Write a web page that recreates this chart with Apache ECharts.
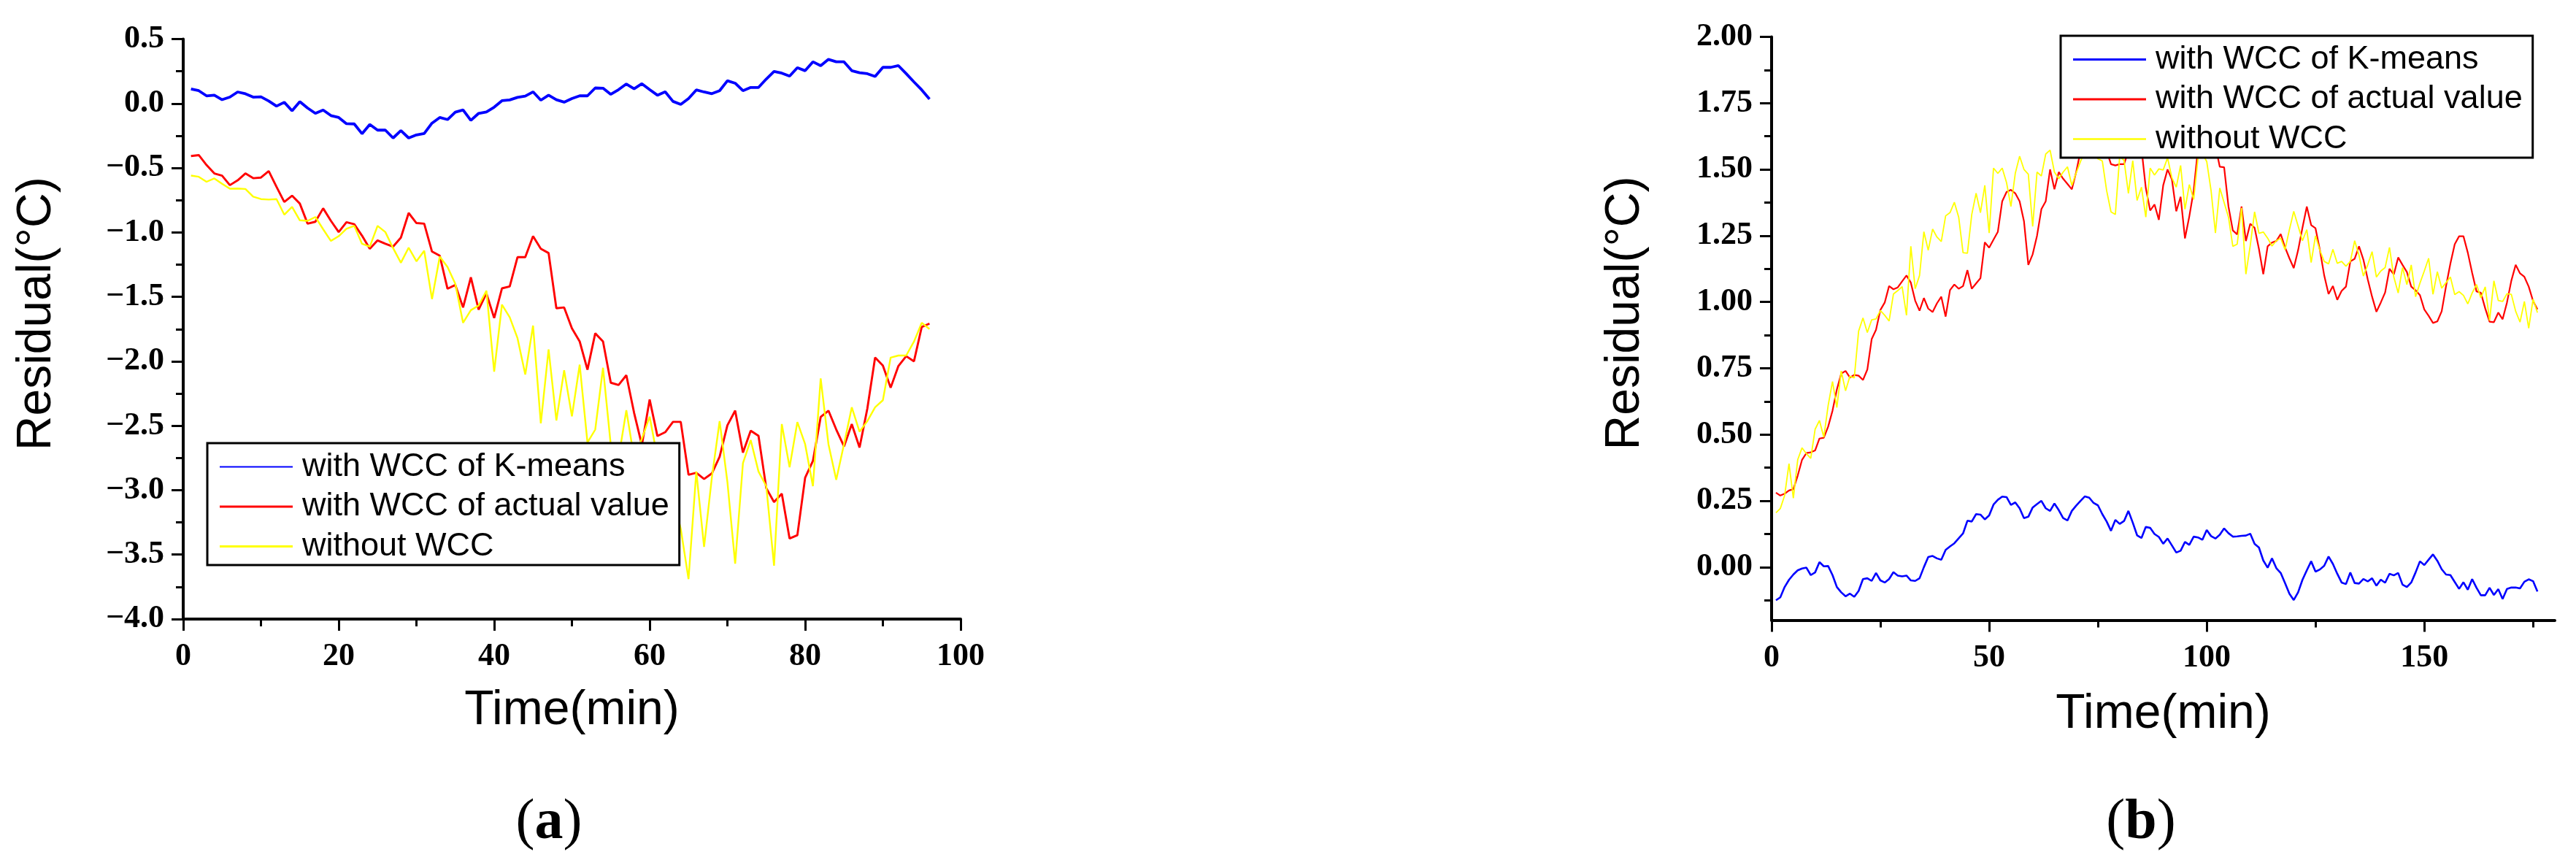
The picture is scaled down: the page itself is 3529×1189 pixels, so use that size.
<!DOCTYPE html>
<html><head><meta charset="utf-8">
<script src="https://cdn.jsdelivr.net/npm/echarts@6/dist/echarts.min.js"></script>
<style>html,body{margin:0;padding:0;background:#fff}#c{width:3529px;height:1189px}</style>
</head><body><div id="c"></div>
<script>
// ---------- data ----------
const seriesNames = ['with WCC of K-means', 'with WCC of actual value', 'without WCC'];
const seriesColors = ['#0000ff', '#ff0000', '#ffff00'];

// panel (a): minutes 1..96
const blueA = [0.113,0.10,0.06,0.065,0.03,0.05,0.09,0.076,0.05,0.052,
  0.02,-0.02,0.01,-0.056,0.015,-0.035,-0.076,-0.05,-0.093,-0.108,
  -0.156,-0.158,-0.234,-0.162,-0.206,-0.206,-0.267,-0.21,-0.267,-0.243,
  -0.232,-0.152,-0.108,-0.124,-0.067,-0.05,-0.13,-0.076,-0.065,-0.028,
  0.022,0.028,0.048,0.058,0.091,0.026,0.065,0.03,0.011,0.039,
  0.06,0.06,0.121,0.119,0.072,0.108,0.152,0.115,0.154,0.108,
  0.065,0.091,0.017,-0.007,0.039,0.106,0.09,0.077,0.10,0.177,
  0.158,0.10,0.125,0.125,0.19,0.249,0.236,0.213,0.278,0.255,
  0.324,0.294,0.343,0.324,0.324,0.255,0.239,0.232,0.21,0.281,
  0.281,0.294,0.232,0.168,0.106,0.035];
const redA = [-0.407,-0.40,-0.477,-0.542,-0.559,-0.633,-0.596,-0.542,-0.579,-0.574,
  -0.524,-0.646,-0.763,-0.715,-0.776,-0.932,-0.917,-0.813,-0.91,-0.997,
  -0.921,-0.936,-1.025,-1.127,-1.062,-1.088,-1.11,-1.04,-0.849,-0.927,
  -0.932,-1.148,-1.181,-1.437,-1.408,-1.582,-1.348,-1.599,-1.473,-1.664,
  -1.434,-1.419,-1.192,-1.192,-1.029,-1.127,-1.16,-1.588,-1.582,-1.744,
  -1.846,-2.065,-1.783,-1.846,-2.166,-2.184,-2.108,-2.40,-2.65,-2.297,
  -2.58,-2.55,-2.47,-2.47,-2.88,-2.865,-2.913,-2.87,-2.74,-2.497,
  -2.383,-2.708,-2.539,-2.578,-2.984,-3.092,-3.027,-3.375,-3.349,-2.903,
  -2.773,-2.432,-2.383,-2.529,-2.66,-2.488,-2.669,-2.367,-1.971,-2.033,
  -2.205,-2.036,-1.96,-2.0,-1.733,-1.707];
const yellowA = [-0.559,-0.568,-0.607,-0.581,-0.622,-0.661,-0.659,-0.663,-0.722,-0.741,
  -0.745,-0.741,-0.862,-0.802,-0.906,-0.91,-0.88,-0.975,-1.066,-1.029,
  -0.971,-0.949,-1.088,-1.11,-0.949,-0.997,-1.122,-1.235,-1.118,-1.224,
  -1.142,-1.517,-1.187,-1.268,-1.398,-1.701,-1.603,-1.567,-1.452,-2.08,
  -1.56,-1.658,-1.82,-2.102,-1.723,-2.481,-1.907,-2.459,-2.069,-2.427,
  -2.026,-2.63,-2.53,-2.05,-2.65,-2.75,-2.38,-2.75,-2.6,-2.43,
  -2.75,-2.9,-3.05,-3.3,-3.69,-2.855,-3.44,-2.903,-2.464,-2.936,
  -3.57,-2.79,-2.611,-2.855,-2.969,-3.586,-2.487,-2.822,-2.471,-2.643,
  -2.969,-2.133,-2.643,-2.919,-2.643,-2.357,-2.546,-2.464,-2.357,-2.302,
  -1.971,-1.955,-1.955,-1.847,-1.701,-1.75];

// panel (b): minutes 1..176
const blueB = [-0.125,-0.114,-0.075,-0.048,-0.028,-0.012,-0.005,-0.002,-0.03,-0.02,
  0.019,0.003,0.004,-0.03,-0.075,-0.095,-0.11,-0.10,-0.112,-0.09,
  -0.045,-0.042,-0.052,-0.022,-0.05,-0.058,-0.045,-0.019,-0.032,-0.035,
  -0.032,-0.05,-0.052,-0.042,0.0,0.038,0.042,0.033,0.028,0.065,
  0.078,0.09,0.109,0.127,0.175,0.172,0.2,0.198,0.18,0.195,
  0.236,0.254,0.266,0.264,0.235,0.244,0.222,0.185,0.19,0.225,
  0.238,0.25,0.222,0.212,0.24,0.215,0.185,0.176,0.212,0.232,
  0.25,0.267,0.262,0.242,0.233,0.2,0.172,0.137,0.178,0.163,
  0.174,0.212,0.168,0.12,0.11,0.152,0.148,0.125,0.114,0.088,
  0.108,0.082,0.055,0.062,0.095,0.084,0.115,0.112,0.103,0.14,
  0.117,0.108,0.122,0.146,0.128,0.115,0.116,0.118,0.119,0.126,
  0.088,0.074,0.025,-0.002,0.033,-0.004,-0.022,-0.06,-0.1,-0.124,
  -0.095,-0.048,-0.012,0.022,-0.017,-0.009,0.005,0.04,0.012,-0.025,
  -0.058,-0.064,-0.02,-0.06,-0.062,-0.045,-0.054,-0.042,-0.07,-0.047,
  -0.059,-0.025,-0.031,-0.022,-0.066,-0.075,-0.058,-0.02,0.022,0.008,
  0.028,0.048,0.024,-0.008,-0.028,-0.03,-0.056,-0.082,-0.057,-0.085,
  -0.045,-0.078,-0.106,-0.106,-0.078,-0.105,-0.083,-0.12,-0.082,-0.077,
  -0.077,-0.08,-0.055,-0.046,-0.053,-0.092];
const redB = [0.281,0.27,0.277,0.289,0.294,0.345,0.405,0.43,0.433,0.44,
  0.485,0.488,0.53,0.59,0.67,0.73,0.74,0.715,0.725,0.722,
  0.706,0.745,0.86,0.895,0.97,0.998,1.06,1.048,1.055,1.078,
  1.1,1.073,1.005,0.967,1.015,0.975,0.962,0.995,1.02,0.945,
  1.045,1.066,1.05,1.06,1.12,1.05,1.07,1.09,1.225,1.205,
  1.235,1.265,1.38,1.415,1.423,1.41,1.38,1.305,1.14,1.18,
  1.25,1.35,1.38,1.5,1.425,1.49,1.465,1.445,1.425,1.49,
  1.57,1.6,1.58,1.61,1.63,1.6,1.57,1.52,1.515,1.52,
  1.52,1.57,1.61,1.63,1.58,1.43,1.345,1.368,1.31,1.44,
  1.5,1.462,1.342,1.397,1.24,1.323,1.42,1.58,1.61,1.6,
  1.62,1.59,1.51,1.508,1.36,1.27,1.255,1.36,1.23,1.295,
  1.28,1.2,1.105,1.21,1.224,1.23,1.256,1.206,1.165,1.128,
  1.195,1.28,1.36,1.29,1.278,1.197,1.1,1.03,1.06,1.008,
  1.042,1.058,1.153,1.163,1.21,1.16,1.086,1.02,0.963,0.998,
  1.036,1.125,1.104,1.168,1.14,1.113,1.058,1.044,1.026,0.972,
  0.948,0.921,0.927,0.965,1.06,1.145,1.218,1.248,1.248,1.186,
  1.11,1.04,1.035,0.976,0.926,0.924,0.96,0.935,0.998,1.08,
  1.14,1.108,1.095,1.058,1.004,0.972];
const yellowB = [0.205,0.221,0.27,0.39,0.26,0.405,0.45,0.428,0.41,0.52,
  0.553,0.49,0.61,0.70,0.602,0.74,0.665,0.72,0.714,0.89,
  0.94,0.885,0.933,0.936,0.968,0.95,0.928,1.03,1.043,1.058,
  0.95,1.21,1.05,1.10,1.265,1.195,1.275,1.245,1.228,1.325,
  1.337,1.376,1.32,1.186,1.184,1.33,1.41,1.337,1.44,1.26,
  1.505,1.485,1.505,1.45,1.36,1.485,1.55,1.5,1.482,1.285,
  1.49,1.475,1.558,1.573,1.49,1.465,1.49,1.51,1.44,1.487,
  1.53,1.57,1.59,1.56,1.54,1.532,1.42,1.34,1.33,1.55,
  1.534,1.41,1.533,1.383,1.433,1.32,1.505,1.479,1.502,1.498,
  1.544,1.468,1.433,1.515,1.35,1.443,1.387,1.544,1.56,1.53,
  1.42,1.26,1.43,1.375,1.32,1.21,1.218,1.355,1.105,1.213,
  1.34,1.259,1.264,1.241,1.211,1.231,1.241,1.197,1.273,1.342,
  1.287,1.231,1.273,1.149,1.25,1.195,1.153,1.144,1.199,1.146,
  1.153,1.135,1.153,1.231,1.176,1.098,1.14,1.19,1.094,1.117,
  1.13,1.206,1.094,1.034,1.13,1.066,1.14,1.02,1.071,1.117,
  1.165,1.029,1.114,1.052,1.073,1.094,1.028,1.039,1.025,0.993,
  1.034,1.066,1.016,1.057,0.93,1.08,1.006,1.002,1.031,1.029,
  0.965,0.924,1.002,0.901,1.011,0.96];

const minutesA = blueA.map((_, i) => i + 1);
const minutesB = blueB.map((_, i) => i + 1);

// tick values
const xMajorB = [0, 50, 100, 150];
const xMinorB = [25, 75, 125, 175];
const yMajorB = [0, 0.25, 0.5, 0.75, 1.0, 1.25, 1.5, 1.75, 2.0];
const yMinorB = [-0.125, 0.125, 0.375, 0.625, 0.875, 1.125, 1.375, 1.625, 1.875];
const panelLabels = ['a', 'b'];

// ---------- chart ----------
const chart = echarts.init(document.getElementById('c'), null, {renderer: 'canvas'});
const tickFont = {fontFamily: 'Liberation Serif', fontWeight: 'bold', fontSize: 44, color: '#000'};
const nameFont = {fontFamily: 'Liberation Sans', fontSize: 66, color: '#000'};
const axLine = {show: true, onZero: false, lineStyle: {color: '#000', width: 4}};
const noLine = {show: false, onZero: false};
const tickStyle = {color: '#000', width: 3};
const fmt = d => v => (v < 0 ? '\u2212' : '') + Math.abs(v).toFixed(d);
const legendLine = w => 'path://M0,0L100,0L100,' + w + 'L0,' + w + 'Z';

function legendFor(left, top, widths) {
  return {
    data: seriesNames.map((n, i) => ({name: n, icon: legendLine(widths[i])})),
    orient: 'vertical', left: left, top: top,
    padding: [10, 14, 3, 17], itemGap: 9.5, itemWidth: 100, itemHeight: 45,
    symbolKeepAspect: true,
    borderColor: '#000', borderWidth: 3, backgroundColor: '#fff', selectedMode: false,
    textStyle: {fontFamily: 'Liberation Sans', fontSize: 45, color: '#000', padding: [0, 0, 0, 8]}
  };
}
function mk(name, data, xs, color, width, gi) {
  return {
    name: name, type: 'line', xAxisIndex: gi, yAxisIndex: gi, symbol: 'none',
    data: xs.map((t, i) => [t, data[i]]),
    lineStyle: {color: color, width: width}, itemStyle: {color: color},
    z: 2
  };
}

const option = {
  animation: false,
  backgroundColor: '#fff',
  grid: [
    {left: 251, top: 53.6, width: 1065, height: 794.4, containLabel: false, outerBoundsMode: 'none'},
    {left: 2427, top: 50.5, width: 1073, height: 799, containLabel: false, outerBoundsMode: 'none'}
  ],
  xAxis: [
    {type: 'value', gridIndex: 0, min: 0, max: 100, interval: 20,
     axisLine: axLine, splitLine: {show: false},
     axisTick: {show: true, inside: false, length: 16, lineStyle: tickStyle},
     minorTick: {show: true, splitNumber: 2, length: 10, lineStyle: tickStyle},
     axisLabel: Object.assign({margin: 30}, tickFont),
     name: 'Time(min)', nameLocation: 'middle', nameGap: 93, nameTextStyle: nameFont},
    {type: 'value', gridIndex: 1, min: 0, max: 180,
     axisLine: axLine, splitLine: {show: false},
     axisTick: {show: true, inside: false, length: 16, lineStyle: tickStyle, customValues: xMajorB},
     axisLabel: Object.assign({margin: 30, customValues: xMajorB}, tickFont),
     name: 'Time(min)', nameLocation: 'middle', nameGap: 96, nameTextStyle: nameFont},
    {type: 'value', gridIndex: 1, min: 0, max: 180, position: 'bottom',
     axisLine: noLine, splitLine: {show: false}, axisLabel: {show: false},
     axisTick: {show: true, inside: false, length: 10, lineStyle: tickStyle, customValues: xMinorB}}
  ],
  yAxis: [
    {type: 'value', gridIndex: 0, min: -4, max: 0.5, interval: 0.5,
     axisLine: axLine, splitLine: {show: false},
     axisTick: {show: true, inside: false, length: 16, lineStyle: tickStyle},
     minorTick: {show: true, splitNumber: 2, length: 10, lineStyle: tickStyle},
     axisLabel: Object.assign({margin: 26, formatter: fmt(1)}, tickFont),
     name: 'Residual(\u00B0C)', nameLocation: 'middle', nameGap: 167, nameRotate: 90,
     nameTextStyle: Object.assign({padding: [0, 0, 0, 42]}, nameFont)},
    {type: 'value', gridIndex: 1, min: -0.2, max: 2.0,
     axisLine: axLine, splitLine: {show: false},
     axisTick: {show: true, inside: false, length: 16, lineStyle: tickStyle, customValues: yMajorB},
     axisLabel: Object.assign({margin: 26, formatter: fmt(2), customValues: yMajorB}, tickFont),
     name: 'Residual(\u00B0C)', nameLocation: 'middle', nameGap: 167, nameRotate: 90,
     nameTextStyle: Object.assign({padding: [0, 0, 0, 42]}, nameFont)},
    {type: 'value', gridIndex: 1, min: -0.2, max: 2.0, position: 'left',
     axisLine: noLine, splitLine: {show: false}, axisLabel: {show: false},
     axisTick: {show: true, inside: false, length: 10, lineStyle: tickStyle, customValues: yMinorB}}
  ],
  legend: [legendFor(284, 607, [2, 3, 3]), legendFor(2823, 49, [3, 3, 2.5])],
  series: [
    mk(seriesNames[0], blueA, minutesA, seriesColors[0], 3.8, 0),
    mk(seriesNames[1], redA, minutesA, seriesColors[1], 2.9, 0),
    mk(seriesNames[2], yellowA, minutesA, seriesColors[2], 2.4, 0),
    mk(seriesNames[0], blueB, minutesB, seriesColors[0], 2.6, 1),
    mk(seriesNames[1], redB, minutesB, seriesColors[1], 2.2, 1),
    mk(seriesNames[2], yellowB, minutesB, seriesColors[2], 1.8, 1)
  ],
  graphic: [
    {type: 'text', x: 752, y: 1128, style: {text: '{p|(}{b|' + panelLabels[0] + '}{p|)}', align: 'center', verticalAlign: 'middle', fill: '#000',
      rich: {p: {fontFamily: 'Liberation Serif', fontSize: 78}, b: {fontFamily: 'Liberation Serif', fontSize: 78, fontWeight: 'bold'}}}},
    {type: 'text', x: 2933, y: 1128, style: {text: '{p|(}{b|' + panelLabels[1] + '}{p|)}', align: 'center', verticalAlign: 'middle', fill: '#000',
      rich: {p: {fontFamily: 'Liberation Serif', fontSize: 78}, b: {fontFamily: 'Liberation Serif', fontSize: 78, fontWeight: 'bold'}}}}
  ]
};
chart.setOption(option);
</script>
</body></html>
